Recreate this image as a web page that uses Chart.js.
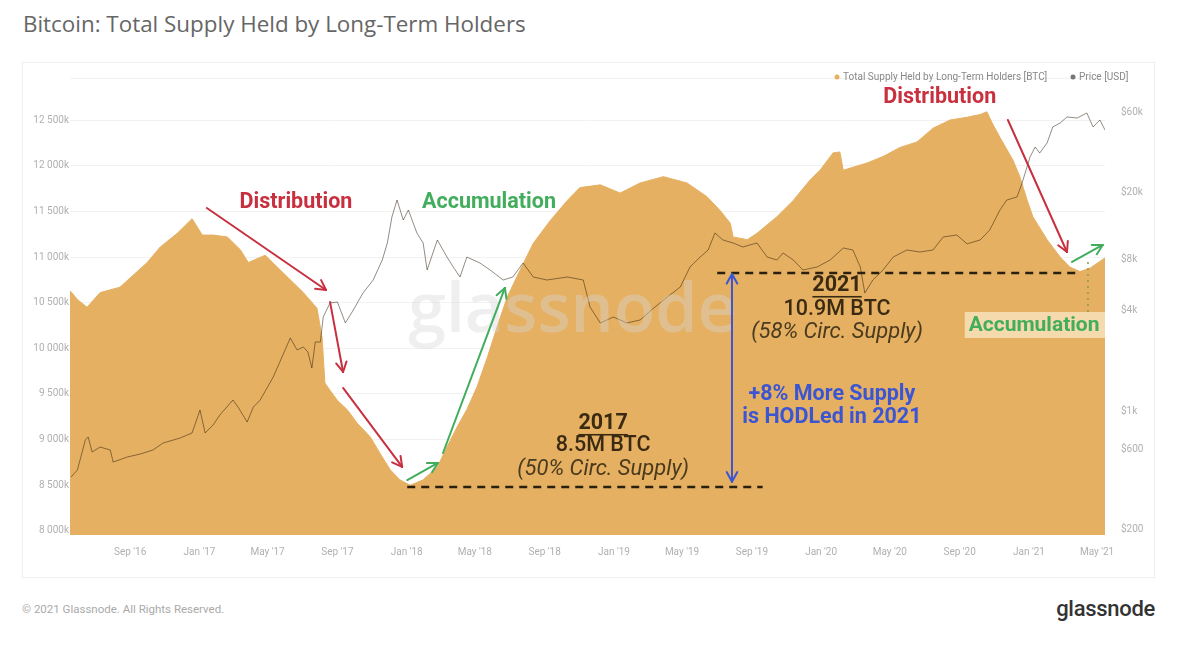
<!DOCTYPE html>
<html>
<head>
<meta charset="utf-8">
<script src="https://cdn.jsdelivr.net/npm/chart.js@4/dist/chart.umd.min.js"></script>
<style>
  html, body { margin: 0; padding: 0; background: #fff; width: 1180px; height: 654px; overflow: hidden; font-family: Roboto, "Noto Sans", sans-serif; }
  #title { position: absolute; left: 23px; top: 8px; font-size: 22.4px; color: #666; font-family: "Open Sans", Roboto, sans-serif; }
  #card { position: absolute; left: 22px; top: 62px; width: 1133px; height: 516px; border: 1px solid #efefef; box-sizing: border-box; }
  #copy { position: absolute; left: 22px; top: 602px; font-size: 11.5px; color: #aaa; }
  #logo { position: absolute; right: 25px; top: 596px; font-size: 22px; color: #333; font-weight: 500; letter-spacing: -0.3px; }
  #chart { position: absolute; left: 0; top: 0; }
</style>
</head>
<body>
<div id="title">Bitcoin: Total Supply Held by Long-Term Holders</div>
<div id="card"></div>
<div id="copy">© 2021 Glassnode. All Rights Reserved.</div>
<div id="logo">glassnode</div>
<canvas id="chart" width="1180" height="654"></canvas>
<script>
// LTH supply, thousands of BTC
const supplyDates = [
  "2016-05-18", "2016-06-01", "2016-06-17", "2016-07-10", "2016-08-14", "2016-10-01", "2016-10-24",
  "2016-11-23", "2016-12-19", "2017-01-06", "2017-01-25", "2017-02-19", "2017-03-14", "2017-03-28",
  "2017-04-27", "2017-05-18", "2017-06-10", "2017-07-03", "2017-07-27", "2017-08-05", "2017-08-10",
  "2017-08-19", "2017-09-01", "2017-09-18", "2017-10-06", "2017-10-29", "2017-11-15", "2017-12-03",
  "2017-12-20", "2018-01-07", "2018-01-30", "2018-02-24", "2018-03-13", "2018-03-31", "2018-04-17",
  "2018-05-05", "2018-05-23", "2018-06-09", "2018-06-27", "2018-07-20", "2018-08-12", "2018-09-11",
  "2018-10-11", "2018-11-02", "2018-12-08", "2019-01-12", "2019-02-16", "2019-03-29", "2019-05-10",
  "2019-06-14", "2019-07-07", "2019-07-25", "2019-07-30", "2019-08-24", "2019-09-10", "2019-10-15",
  "2019-11-13", "2019-12-12", "2019-12-30", "2020-01-22", "2020-02-03", "2020-02-09", "2020-03-01",
  "2020-03-22", "2020-04-19", "2020-05-19", "2020-06-18", "2020-07-16", "2020-08-15", "2020-09-14",
  "2020-10-07", "2020-10-19", "2020-10-28", "2020-11-11", "2020-12-04", "2020-12-16", "2020-12-29",
  "2021-01-08", "2021-02-02", "2021-02-25", "2021-03-14", "2021-04-01", "2021-04-19", "2021-05-15"
];
const supplyValues = [
  10630, 10530, 10450, 10610, 10670, 10940, 11110,
  11260, 11420, 11240, 11240, 11220, 11080, 10940,
  11020, 10890, 10750, 10610, 10440, 10120, 9620,
  9540, 9430, 9330, 9180, 9030, 8850, 8670,
  8560, 8500, 8560, 8700, 8920, 9140, 9330,
  9580, 9900, 10230, 10560, 10860, 11150, 11400,
  11620, 11760, 11790, 11700, 11810, 11880, 11810,
  11660, 11510, 11370, 11220, 11190, 11260, 11440,
  11620, 11840, 11950, 12140, 12150, 11950, 11990,
  12030, 12100, 12200, 12260, 12410, 12500, 12530,
  12560, 12590, 12470, 12310, 12060, 11880, 11620,
  11440, 11190, 11000, 10890, 10840, 10880, 10990
];

// BTC price, USD
const priceDates = [
  "2016-05-20", "2016-05-31", "2016-06-14", "2016-06-19", "2016-06-26", "2016-07-10", "2016-07-28",
  "2016-08-02", "2016-08-27", "2016-09-19", "2016-10-11", "2016-10-29", "2016-11-28", "2016-12-19",
  "2017-01-02", "2017-01-11", "2017-01-25", "2017-02-06", "2017-03-01", "2017-03-10", "2017-03-26",
  "2017-04-06", "2017-04-18", "2017-05-11", "2017-05-28", "2017-06-10", "2017-06-22", "2017-07-03",
  "2017-07-11", "2017-07-18", "2017-07-24", "2017-08-02", "2017-08-07", "2017-08-19", "2017-09-01",
  "2017-09-15", "2017-09-29", "2017-10-16", "2017-11-03", "2017-11-19", "2017-11-28", "2017-12-06",
  "2017-12-15", "2017-12-26", "2018-01-04", "2018-01-19", "2018-01-30", "2018-02-06", "2018-02-24",
  "2018-03-13", "2018-03-24", "2018-04-05", "2018-04-17", "2018-05-10", "2018-05-28", "2018-06-20",
  "2018-07-07", "2018-07-25", "2018-08-12", "2018-09-05", "2018-10-11", "2018-11-08", "2018-11-20",
  "2018-12-08", "2018-12-31", "2019-01-24", "2019-02-16", "2019-03-11", "2019-04-05", "2019-04-28",
  "2019-05-15", "2019-06-02", "2019-06-16", "2019-06-28", "2019-07-12", "2019-07-30", "2019-08-16",
  "2019-09-10", "2019-09-28", "2019-10-15", "2019-10-26", "2019-11-13", "2019-11-30", "2019-12-25",
  "2020-01-17", "2020-02-09", "2020-02-26", "2020-03-10", "2020-03-18", "2020-04-01", "2020-04-19",
  "2020-05-07", "2020-05-31", "2020-06-23", "2020-07-16", "2020-08-03", "2020-08-27", "2020-09-14",
  "2020-10-07", "2020-10-24", "2020-11-11", "2020-11-23", "2020-12-11", "2020-12-20", "2021-01-03",
  "2021-01-12", "2021-01-20", "2021-02-02", "2021-02-12", "2021-02-25", "2021-03-09", "2021-03-27",
  "2021-04-13", "2021-04-24", "2021-05-06", "2021-05-15"
];
const priceValues = [
  412, 453, 682, 711, 579, 620, 595,
  505, 541, 564, 595, 655, 701, 751,
  1027, 751, 837, 960, 1178, 1070, 872,
  1070, 1178, 1613, 2177, 2746, 2331, 2428,
  2268, 1823, 2600, 2600, 3656, 4426, 4487,
  3370, 4022, 5072, 6058, 7961, 10040, 14316,
  18050, 13740, 15750, 11510, 10040, 6942, 10460,
  8290, 7235, 6312, 8290, 7642, 6942, 6058,
  6312, 7642, 6312, 6058, 6312, 6058, 4191,
  3370, 3656, 3370, 3510, 4100, 4804, 5507,
  7235, 8290, 9124, 11510, 10460, 10040, 9506,
  10040, 8290, 7961, 8758, 7961, 6942, 7235,
  7961, 9378, 9124, 7235, 5072, 6058, 6942,
  8290, 9124, 8878, 9124, 10900, 11200, 9925,
  10460, 11990, 15750, 18050, 18810, 22770, 32480,
  37220, 34290, 39320, 48910, 51640, 56060, 55290,
  59200, 48910, 53800, 46940
];

const xTickDates = [
  "2016-09-01", "2017-01-01", "2017-05-01", "2017-09-01", "2018-01-01", "2018-05-01", "2018-09-01",
  "2019-01-01", "2019-05-01", "2019-09-01", "2020-01-01", "2020-05-01", "2020-09-01", "2021-01-01", "2021-05-01"
];
const supplyTicks = [8000, 8500, 9000, 9500, 10000, 10500, 11000, 11500, 12000, 12500];
const priceTicks = [200, 600, 1000, 4000, 8000, 20000, 60000];
const monthNames = ["Jan", "Feb", "Mar", "Apr", "May", "Jun", "Jul", "Aug", "Sep", "Oct", "Nov", "Dec"];

const t = (d) => Date.parse(d + "T00:00:00Z");

const RED = "#c9303f", GREEN = "#42ad5c", BLUE = "#3b55d3", DARK = "#3a2a12";
const FILL = "rgb(229,176,98)";

// overlay notes, placed in data coordinates (date, supply)
const notes = {
  texts: [
    { text: "Distribution", at: ["2017-06-20", 11600], color: RED, font: "bold 21.5px Roboto" },
    { text: "Accumulation", at: ["2018-05-26", 11600], color: GREEN, font: "bold 21.5px Roboto" },
    { text: "Distribution", at: ["2020-07-28", 12750], color: RED, font: "bold 21.5px Roboto" },
    { text: "2017", at: ["2018-12-13", 9172], color: DARK, font: "bold 21.5px Roboto", underline: true },
    { text: "8.5M BTC", at: ["2018-12-13", 8931], color: DARK, font: "500 21.5px Roboto" },
    { text: "(50% Circ. Supply)", at: ["2018-12-13", 8668], color: "#4a3a1e", font: "italic 22px Roboto" },
    { text: "+8% More Supply", at: ["2020-01-20", 9489], color: BLUE, font: "bold 21.5px Roboto" },
    { text: "is HODLed in 2021", at: ["2020-01-20", 9237], color: BLUE, font: "bold 21.5px Roboto" },
    { text: "2021", at: ["2020-01-29", 10683], color: DARK, font: "bold 21.5px Roboto", underline: true },
    { text: "10.9M BTC", at: ["2020-01-29", 10420], color: DARK, font: "500 21.5px Roboto" },
    { text: "(58% Circ. Supply)", at: ["2020-01-29", 10168], color: "#4a3a1e", font: "italic 22px Roboto" },
    { text: "Accumulation", at: ["2021-01-10", 10250], color: GREEN, font: "bold 21px Roboto",
      box: [["2020-09-10", 10398], ["2021-05-15", 10113]] }
  ],
  arrows: [
    { from: ["2017-01-14", 11537], to: ["2017-08-12", 10639], color: RED },
    { from: ["2017-08-19", 10508], to: ["2017-09-11", 9741], color: RED },
    { from: ["2017-09-11", 9566], to: ["2017-12-24", 8701], color: RED },
    { from: ["2018-01-02", 8558], to: ["2018-02-25", 8745], color: GREEN },
    { from: ["2018-03-06", 8854], to: ["2018-06-23", 10661], color: GREEN },
    { from: ["2019-07-28", 8540], to: ["2019-07-28", 10815], color: BLUE, both: true },
    { from: ["2020-11-25", 12500], to: ["2021-03-09", 11055], color: RED },
    { from: ["2021-03-18", 10946], to: ["2021-05-11", 11132], color: GREEN }
  ],
  dashes: [
    { from: ["2018-01-02", 8482], to: ["2019-09-20", 8482], color: "#2b2010", width: 2.5, dash: [8, 6] },
    { from: ["2019-07-02", 10825], to: ["2021-04-01", 10825], color: "#2b2010", width: 2.5, dash: [8, 6] },
    { from: ["2021-04-15", 10946], to: ["2021-04-15", 10398], color: "#8a9a55", width: 1.5, dash: [2, 4] }
  ],
  watermark: { text: "glassnode", at: ["2018-10-20", 10387] }
};

const overlay = {
  id: "overlay",
  afterDatasetsDraw(chart) {
    const { ctx } = chart;
    const xs = chart.scales.x, ys = chart.scales.y;
    const P = (p) => [xs.getPixelForValue(t(p[0])), ys.getPixelForValue(p[1])];

    ctx.save();
    // watermark
    const w = P(notes.watermark.at);
    ctx.font = "600 68px 'Open Sans'";
    ctx.fillStyle = "rgba(215,215,215,0.4)";
    ctx.textAlign = "center";
    ctx.textBaseline = "middle";
    ctx.fillText(notes.watermark.text, w[0], w[1]);

    notes.dashes.forEach((d) => {
      const a = P(d.from), b = P(d.to);
      ctx.beginPath();
      ctx.setLineDash(d.dash);
      ctx.strokeStyle = d.color;
      ctx.lineWidth = d.width;
      ctx.moveTo(a[0], a[1]);
      ctx.lineTo(b[0], b[1]);
      ctx.stroke();
    });
    ctx.setLineDash([]);

    const head = (tip, from) => {
      const ang = Math.atan2(tip[1] - from[1], tip[0] - from[0]);
      [-0.5, 0.5].forEach((s) => {
        ctx.beginPath();
        ctx.moveTo(tip[0], tip[1]);
        ctx.lineTo(tip[0] - 11 * Math.cos(ang + s), tip[1] - 11 * Math.sin(ang + s));
        ctx.stroke();
      });
    };
    notes.arrows.forEach((ar) => {
      const a = P(ar.from), b = P(ar.to);
      ctx.strokeStyle = ar.color;
      ctx.lineWidth = 2;
      ctx.lineCap = "round";
      ctx.beginPath();
      ctx.moveTo(a[0], a[1]);
      ctx.lineTo(b[0], b[1]);
      ctx.stroke();
      head(b, a);
      if (ar.both) head(a, b);
    });

    notes.texts.forEach((n) => {
      const p = P(n.at);
      if (n.box) {
        const b0 = P(n.box[0]), b1 = P(n.box[1]);
        ctx.fillStyle = "rgba(255,246,225,0.6)";
        ctx.fillRect(b0[0], b0[1], b1[0] - b0[0], b1[1] - b0[1]);
      }
      ctx.font = n.font;
      ctx.fillStyle = n.color;
      ctx.textAlign = "center";
      ctx.textBaseline = "middle";
      ctx.fillText(n.text, p[0], p[1]);
      if (n.underline) {
        const wd = ctx.measureText(n.text).width;
        ctx.fillRect(p[0] - wd / 2, p[1] + 10, wd, 1.6);
      }
    });

    // legend
    ctx.font = "10px Roboto";
    ctx.textAlign = "left";
    ctx.textBaseline = "middle";
    ctx.fillStyle = FILL;
    ctx.beginPath(); ctx.arc(837, 77, 2.5, 0, Math.PI * 2); ctx.fill();
    ctx.fillStyle = "#888";
    ctx.fillText("Total Supply Held by Long-Term Holders [BTC]", 843, 77);
    ctx.fillStyle = "#777";
    ctx.beginPath(); ctx.arc(1073, 77, 2.5, 0, Math.PI * 2); ctx.fill();
    ctx.fillStyle = "#888";
    ctx.fillText("Price [USD]", 1079, 77);
    ctx.restore();
  }
};

new Chart(document.getElementById("chart"), {
  type: "line",
  data: {
    datasets: [
      {
        label: "Price [USD]",
        data: priceDates.map((d, i) => ({ x: t(d), y: priceValues[i] })),
        yAxisID: "y1",
        borderColor: "rgba(40,25,5,0.5)",
        borderWidth: 1,
        pointRadius: 0,
        tension: 0,
        order: 0
      },
      {
        label: "Total Supply Held by Long-Term Holders [BTC]",
        data: supplyDates.map((d, i) => ({ x: t(d), y: supplyValues[i] })),
        yAxisID: "y",
        borderColor: FILL,
        borderWidth: 1,
        backgroundColor: FILL,
        fill: "start",
        pointRadius: 0,
        tension: 0,
        order: 1
      }
    ]
  },
  options: {
    responsive: false,
    animation: false,
    layout: { padding: { left: 22, right: 25, top: 78, bottom: 89 } },
    plugins: { legend: { display: false }, tooltip: { enabled: false } },
    scales: {
      x: {
        type: "linear",
        min: t("2016-05-18"),
        max: t("2021-05-15"),
        afterBuildTicks: (s) => { s.ticks = xTickDates.map((d) => ({ value: t(d) })); },
        afterFit: (s) => { s.height = 30; },
        grid: { display: false },
        border: { display: false },
        ticks: {
          padding: 3,
          maxRotation: 0,
          autoSkip: false,
          color: "#b0b0b0",
          font: { family: "Roboto", size: 10 },
          callback: (v) => {
            const d = new Date(v);
            return monthNames[d.getUTCMonth()] + " '" + String(d.getUTCFullYear()).slice(2);
          }
        }
      },
      y: {
        position: "left",
        min: 7956,
        max: 12960,
        afterBuildTicks: (s) => { s.ticks = supplyTicks.concat([12960]).map((v) => ({ value: v })); },
        afterFit: (s) => { s.width = 48; },
        grid: { color: "#f2f2f2", drawTicks: false },
        border: { display: false },
        ticks: {
          padding: 1,
          color: "#b0b0b0",
          font: { family: "Roboto", size: 10 },
          callback: (v) => v === 12960 ? "" : Math.floor(v / 1000) + " " + String(v % 1000).padStart(3, "0") + "k"
        }
      },
      y1: {
        type: "logarithmic",
        position: "right",
        min: 186.6,
        max: 95430,
        afterBuildTicks: (s) => { s.ticks = priceTicks.map((v) => ({ value: v })); },
        afterFit: (s) => { s.width = 50; },
        grid: { display: false },
        border: { display: false },
        ticks: {
          padding: 8,
          color: "#b0b0b0",
          font: { family: "Roboto", size: 10 },
          callback: (v) => "$" + (v >= 1000 ? v / 1000 + "k" : v)
        }
      }
    }
  },
  plugins: [overlay]
});
</script>
</body>
</html>
